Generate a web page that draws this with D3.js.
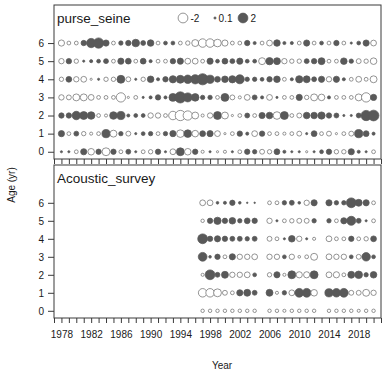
<!DOCTYPE html>
<html>
<head>
<meta charset="utf-8">
<script src="https://cdn.jsdelivr.net/npm/d3@7"></script>
<style>
  body { margin: 0; background: #fff; }
  text { font-family: "Liberation Sans", Arial, sans-serif; fill: #1a1a1a; }
</style>
</head>
<body>
<svg id="chart" width="385" height="375"></svg>
<script>
// Pearson residuals of age compositions, by fleet / survey
const ages = [0, 1, 2, 3, 4, 5, 6];
const yearTicks = [1978, 1982, 1986, 1990, 1994, 1998, 2002, 2006, 2010, 2014, 2018];
const legendVals = [-2, 0.1, 2];

const fishYears = [1978, 1979, 1980, 1981, 1982, 1983, 1984, 1985, 1986, 1987,
  1988, 1989, 1990, 1991, 1992, 1993, 1994, 1995, 1996, 1997,
  1998, 1999, 2000, 2001, 2002, 2003, 2004, 2005, 2006, 2007,
  2008, 2009, 2010, 2011, 2012, 2013, 2014, 2015, 2016, 2017,
  2018, 2019, 2020];

const psAge6 = [-0.8,-0.3,-0.3,0.6,1.8,2.2,0.8,-0.3,0.4,0.6, 1.2,0.5,0.9,-0.3,0.3,0.3,-0.3,-0.4,-1.0,-1.5, -1.5,-1.2,-0.8,-0.3,-0.3,0.6,0.2,-0.3,-0.7,0.9, 0.2,0.2,-0.3,0.8,-0.3,0.3,-0.3,0.6,-0.3,0.1, 0.3,0.8,-0.7];
const psAge5 = [-0.6,0.6,-0.4,0.1,0.2,0.3,0.5,-0.3,0.8,0.7, -0.3,0.7,0.2,-0.3,-0.3,0.6,0.8,-0.7,-0.7,-0.3, 0.8,0.3,0.7,0.5,0.8,0.3,0.3,-1.0,1.1,1.0, -0.6,-0.4,-0.4,0.5,0.6,1.0,-0.3,-0.3,0.9,0.4, -0.5,-0.4,-0.9];
const psAge4 = [-0.4,0.7,-0.6,-0.7,-0.1,0.1,-0.4,-0.4,1.3,-0.5, 0.1,-0.4,0.9,0.2,0.6,1.1,1.3,1.5,1.8,2.6, 1.4,0.7,0.9,1.1,1.7,0.4,0.4,0.3,0.6,0.9, -0.3,0.2,1.1,1.0,0.5,0.8,-0.6,0.8,0.2,-0.3, -0.7,-0.3,-1.0];
const psAge3 = [-0.6,-0.5,-1.0,-1.0,-0.7,-0.3,-0.3,-0.3,-1.8,-0.1, -0.3,0.1,0.2,0.6,0.2,1.3,2.6,1.7,1.2,0.4, 0.4,-0.3,1.3,-0.5,-0.2,-0.7,0.5,0.2,-0.7,0.1, -0.3,-0.3,0.8,-0.4,-1.0,-0.9,0.2,-0.3,-0.3,-0.3, -1.0,-1.8,0.8];
const psAge2 = [0.6,0.6,1.5,1.3,1.2,-0.3,-0.2,1.2,1.4,0.2, 0.3,0.3,-0.6,-0.6,-0.3,-1.5,-2.2,-1.8,-1.0,-0.2, -0.6,1.3,-1.0,-0.1,-0.3,0.5,-0.3,0.8,0.9,-1.2, 1.3,-0.3,-0.5,0.9,0.9,1.1,0.6,0.5,0.1,0.1, 0.5,2.2,2.4];
const psAge1 = [0.8,-0.3,0.5,-0.4,-0.2,-0.3,1.4,-1.0,0.4,-0.5, 0.1,0.3,0.4,-0.3,0.4,0.8,-1.2,1.2,-0.9,0.7, 0.8,-0.7,-0.1,-0.3,0.6,0.2,-0.7,0.6,-0.3,-0.3, -0.2,-0.3,-0.5,0.1,0.7,-0.3,-0.5,-0.1,-0.3,-0.5, 1.4,0.7,0.2];
const psAge0 = [0.1,0.1,-0.3,0.8,-0.9,0.6,-1.3,0.6,-0.3,0.5, 0.1,-0.3,-0.4,0.6,0.1,-0.7,1.3,-0.9,0.6,-0.2, 0.1,-0.1,-0.2,0.1,-0.3,0.6,0.4,-0.5,-0.4,0.7, 0.2,0.1,0.1,-0.1,0.1,0.3,0.6,-0.4,-0.4,0.8, 0.2,0.1,-0.3];

const acYears = [1997, 1998, 1999, 2000, 2001, 2002, 2003, 2004,
  2006, 2007, 2008, 2009, 2010, 2011, 2012,
  2014, 2015, 2016, 2017, 2018, 2019, 2020];

const acAge6 = [-0.7,-0.7,0.15,0.2,0.6,0.15,0.05,0.05, -0.3,-0.3,0.4,0.5,0.15,-0.6,0.8, 0.8,0.4,0.4,2.0,1.0,0.8,-0.3];
const acAge5 = [-0.25,0.6,1.1,0.6,0.9,0.4,0.7,0.6, -0.6,0.1,-0.3,-0.4,-0.5,-0.5,0.4, 0.4,-0.3,0.8,1.7,0.5,0.1,-0.3];
const acAge4 = [2.0,0.6,0.8,0.6,0.5,0.5,0.4,0.5, -0.5,-0.3,0.1,0.9,-0.6,0.1,-0.2, -0.7,-0.3,-0.3,0.6,-0.3,-0.4,0.7];
const acAge3 = [1.6,0.15,0.6,-0.3,0.8,-0.6,-0.6,-0.7, -0.6,-0.6,0.3,-0.6,-0.15,-0.3,-1.0, -0.7,-0.6,-0.6,0.3,-0.5,1.5,0.3];
const acAge2 = [-0.2,2.0,0.5,1.0,-0.6,-0.6,-0.7,0.3, -0.4,0.8,-0.2,1.3,-0.8,-0.8,1.3, -0.7,-0.8,-0.3,1.0,1.2,0.4,0.9];
const acAge1 = [-1.5,-1.5,-1.3,-0.5,-0.3,0.8,1.0,0.5, 1.0,-0.2,0.4,-0.7,1.6,1.6,-0.9, 1.4,1.5,1.6,-0.5,-0.5,-1.0,-0.6];
const acAge0 = [-0.25,-0.25,-0.25,-0.25,-0.25,-0.25,-0.25,-0.25, -0.25,-0.25,-0.2,-0.25,-0.25,-0.25,-0.25, -0.25,-0.25,-0.25,-0.25,-0.2,-0.25,-0.25];

const svg = d3.select("#chart");
const POS = "#595959", NEG_STROKE = "#707070", FRAME = "#3a3a3a";

const x = d3.scaleLinear().domain([1977, 2021]).range([54, 381]);
const r = d3.scaleSqrt().domain([0, 2]).range([0, 4.9]);
const allYears = d3.range(1977, 2022);

const panels = [
  { name: "purse_seine", top: 5, bottom: 159, years: fishYears,
    rows: [psAge0, psAge1, psAge2, psAge3, psAge4, psAge5, psAge6], labels: false },
  { name: "Acoustic_survey", top: 165, bottom: 318, years: acYears,
    rows: [acAge0, acAge1, acAge2, acAge3, acAge4, acAge5, acAge6], labels: true }
];

function bubble(sel, v) {
  sel.attr("r", r(Math.abs(v)))
    .attr("fill", v >= 0 ? POS : "#fff")
    .attr("stroke", v >= 0 ? POS : NEG_STROKE)
    .attr("stroke-width", 0.75);
}

panels.forEach(p => {
  const y = d3.scaleLinear().domain([-0.4, 8.1]).range([p.bottom, p.top]);
  const g = svg.append("g");

  // bubbles
  const pts = [];
  p.rows.forEach((vals, ai) => vals.forEach((v, yi) => pts.push({ year: p.years[yi], age: ages[ai], v })));
  g.selectAll("circle.b").data(pts).join("circle")
    .attr("class", "b")
    .attr("cx", d => x(d.year))
    .attr("cy", d => y(d.age))
    .each(function(d) { bubble(d3.select(this), d.v); });

  // frame
  g.append("rect")
    .attr("x", x.range()[0]).attr("y", p.top)
    .attr("width", x.range()[1] - x.range()[0]).attr("height", p.bottom - p.top)
    .attr("fill", "none").attr("stroke", FRAME).attr("stroke-width", 1);

  // age axis
  const ya = g.append("g").attr("transform", `translate(${x.range()[0]},0)`)
    .call(d3.axisLeft(y).tickValues(ages).tickSize(6).tickPadding(4).tickFormat(d3.format("d")));
  ya.select(".domain").remove();
  ya.selectAll("line").attr("stroke", FRAME);
  ya.selectAll("text").attr("font-size", 10).attr("font-family", "Liberation Sans, Arial, sans-serif").attr("fill", "#1a1a1a");

  // year axis
  const xa = g.append("g").attr("transform", `translate(0,${p.bottom})`)
    .call(d3.axisBottom(x).tickValues(allYears).tickSize(5).tickPadding(8)
      .tickFormat(d => (p.labels && yearTicks.includes(d)) ? String(d) : ""));
  xa.select(".domain").remove();
  xa.selectAll("line").attr("stroke", FRAME);
  xa.selectAll("text").attr("font-size", 10).attr("font-family", "Liberation Sans, Arial, sans-serif").attr("fill", "#1a1a1a");

  // panel name
  g.append("text").attr("x", 57).attr("y", p.top + 18)
    .attr("font-size", 13.5).text(p.name);
});

// size legend
const lg = svg.append("g").attr("transform", "translate(0,18)");
const legendX = [183, 215, 243];
legendVals.forEach((v, i) => {
  lg.append("circle").attr("cx", legendX[i]).attr("cy", 0).call(s => bubble(s, v));
  lg.append("text").attr("x", legendX[i] + r(Math.abs(v)) + 2.5).attr("y", 3.5)
    .attr("font-size", 10).text(String(v));
});

// axis titles
svg.append("text").attr("x", 222).attr("y", 369).attr("text-anchor", "middle")
  .attr("font-size", 10).text("Year");
svg.append("text").attr("transform", "translate(15,185) rotate(-90)")
  .attr("text-anchor", "middle").attr("font-size", 10).text("Age (yr)");
</script>
</body>
</html>
